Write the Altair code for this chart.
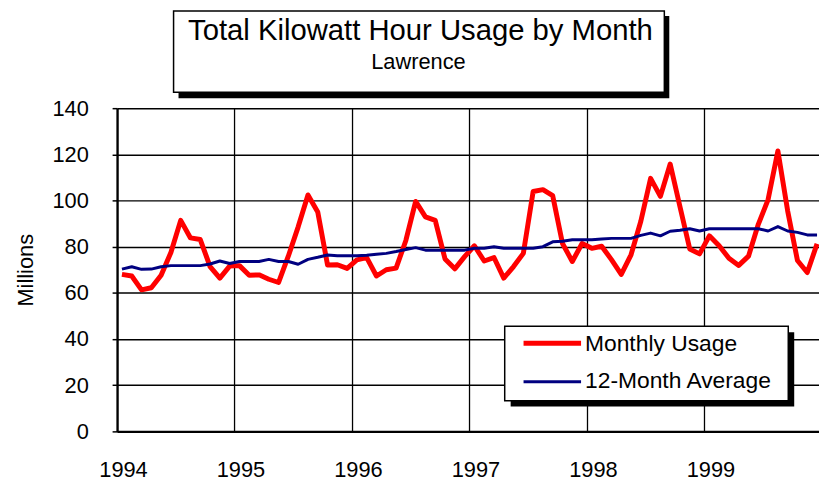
import altair as alt
import pandas as pd

# ---------------- data ----------------
years = ["1994", "1995", "1996", "1997", "1998", "1999"]
y_ticks = [0, 20, 40, 60, 80, 100, 120, 140]
series_names = ["Monthly Usage", "12-Month Average"]
series_colors = ["#FF0000", "#000080"]

monthly_usage = [
    68.0, 67.3, 61.3, 62.2, 67.6, 77.5, 91.4, 83.8, 83.1, 71.4, 66.4, 71.6,
    71.8, 67.6, 67.8, 65.9, 64.5, 76.0, 88.6, 102.4, 95.0, 72.1, 72.2, 70.6,
    74.3, 75.3, 67.3, 70.0, 70.7, 82.7, 99.6, 92.9, 91.4, 74.7, 70.4, 75.7,
    80.4, 73.8, 75.3, 66.4, 71.4, 77.1, 103.9, 104.7, 102.1, 81.4, 73.6, 81.4,
    79.3, 80.2, 74.4, 68.0, 76.5, 91.0, 109.6, 101.8, 115.8, 97.3, 79.0, 76.9,
    84.7, 80.4, 75.0, 71.9, 75.9, 89.7, 100.4, 121.5, 95.5, 74.0, 68.8, 81.2,
]
avg_12 = [
    70.3, 71.3, 70.2, 70.3, 71.3, 71.8, 71.8, 71.8, 71.8, 72.5, 73.8, 72.7,
    73.6, 73.6, 73.6, 74.5, 73.6, 73.6, 72.4, 74.5, 75.4, 76.4, 76.1, 76.1,
    76.1, 76.3, 76.7, 77.1, 77.9, 78.8, 79.6, 78.5, 78.5, 78.5, 78.5, 78.5,
    79.3, 79.3, 80.0, 79.3, 79.3, 79.3, 79.3, 80.0, 82.1, 82.4, 83.0, 83.0,
    83.0, 83.3, 83.6, 83.6, 83.6, 84.9, 85.9, 84.7, 86.7, 87.1, 87.8, 86.8,
    87.8, 87.8, 87.8, 87.8, 87.8, 87.8, 86.8, 88.7, 86.8, 86.2, 85.1, 85.1,
]
title_text = "Total Kilowatt Hour Usage by Month"
subtitle_text = "Lawrence"
y_title = "Millions"

FONT = "Liberation Sans"
W, H = 708, 326

n = len(monthly_usage)
df = pd.DataFrame({
    "month": [i + 0.5 for i in range(n)],
    series_names[0]: monthly_usage,
    series_names[1]: avg_12,
}).melt(id_vars="month", var_name="series", value_name="kwh")

label_expr = "[" + ",".join("'%s'" % y for y in years) + "][round(datum.value/12)]"

x_enc = alt.X(
    "month:Q",
    scale=alt.Scale(domain=[0, 71.7], nice=False, zero=False),
    axis=alt.Axis(
        values=[12 * i for i in range(len(years))],
        labelExpr=label_expr,
        title=None,
        ticks=False,
        labelFlush=False,
        labelOverlap=False,
        labelPadding=29,
        labelOffset=6,
        labelFontSize=22,
        labelFont=FONT,
        labelColor="black",
        grid=True,
        gridColor="black",
        gridWidth=1.3,
        domainColor="black",
        domainWidth=2.3,
    ),
)
y_enc = alt.Y(
    "kwh:Q",
    scale=alt.Scale(domain=[0, 140], nice=False),
    axis=alt.Axis(
        values=y_ticks,
        title=y_title,
        titleFont=FONT,
        titleFontSize=22,
        titleFontWeight="normal",
        titleColor="black",
        titleAngle=270,
        titleX=-85,
        titleY=H / 2,
        titleAlign="center",
        titleBaseline="alphabetic",
        tickSize=5,
        tickColor="black",
        tickWidth=1.5,
        labelPadding=24,
        labelFlush=False,
        labelFontSize=22,
        labelFont=FONT,
        labelColor="black",
        grid=True,
        gridColor="black",
        gridWidth=1.5,
        domainColor="black",
        domainWidth=2.3,
    ),
)

red_line = alt.Chart(df).transform_filter(
    alt.datum.series == series_names[0]
).mark_line(color=series_colors[0], strokeWidth=5, strokeJoin="round").encode(x=x_enc, y=y_enc)

blue_line = alt.Chart(df).transform_filter(
    alt.datum.series == series_names[1]
).mark_line(color=series_colors[1], strokeWidth=3, strokeJoin="round").encode(x=x_enc, y=y_enc)

one = pd.DataFrame({"_": [0]})

def rect(x, x2, y, y2, fill, stroke=None):
    kw = dict(fill=fill)
    if stroke:
        kw.update(stroke=stroke, strokeWidth=1.5)
    return alt.Chart(one).mark_rect(**kw).encode(
        x=alt.value(x), x2=alt.value(x2), y=alt.value(y), y2=alt.value(y2)
    )

def label(text, x, y, size, align="left"):
    return alt.Chart(one).mark_text(
        align=align, baseline="alphabetic", fontSize=size, font=FONT, color="black"
    ).encode(x=alt.value(x), y=alt.value(y), text=alt.value(text))

def swatch(color, width, y):
    return alt.Chart(one).mark_rule(color=color, strokeWidth=width).encode(
        x=alt.value(410), x2=alt.value(468), y=alt.value(y)
    )

# title box
title_layers = [
    rect(62, 557, -93, -10, "black"),
    rect(57, 552, -98, -16, "white", "black"),
    label(title_text, 306, -69, 29.5, "center"),
    label(subtitle_text, 304, -40, 22, "center"),
]

# legend box
legend_layers = [
    rect(397, 683, 226, 301, "black"),
    rect(391, 677, 220, 295, "white", "black"),
    swatch(series_colors[0], 5, 237),
    swatch(series_colors[1], 3, 276),
    label(series_names[0], 472, 245, 23),
    label(series_names[1], 472, 282, 23),
]

chart = alt.layer(
    red_line, blue_line, *title_layers, *legend_layers
).properties(
    width=W,
    height=H,
    autosize=alt.AutoSizeParams(type="none"),
    padding={"left": 110, "top": 99, "right": 0, "bottom": 48},
    background="white",
).configure_view(stroke=None)

chart.save("out.html", embed_options={"renderer": "svg", "actions": False})
